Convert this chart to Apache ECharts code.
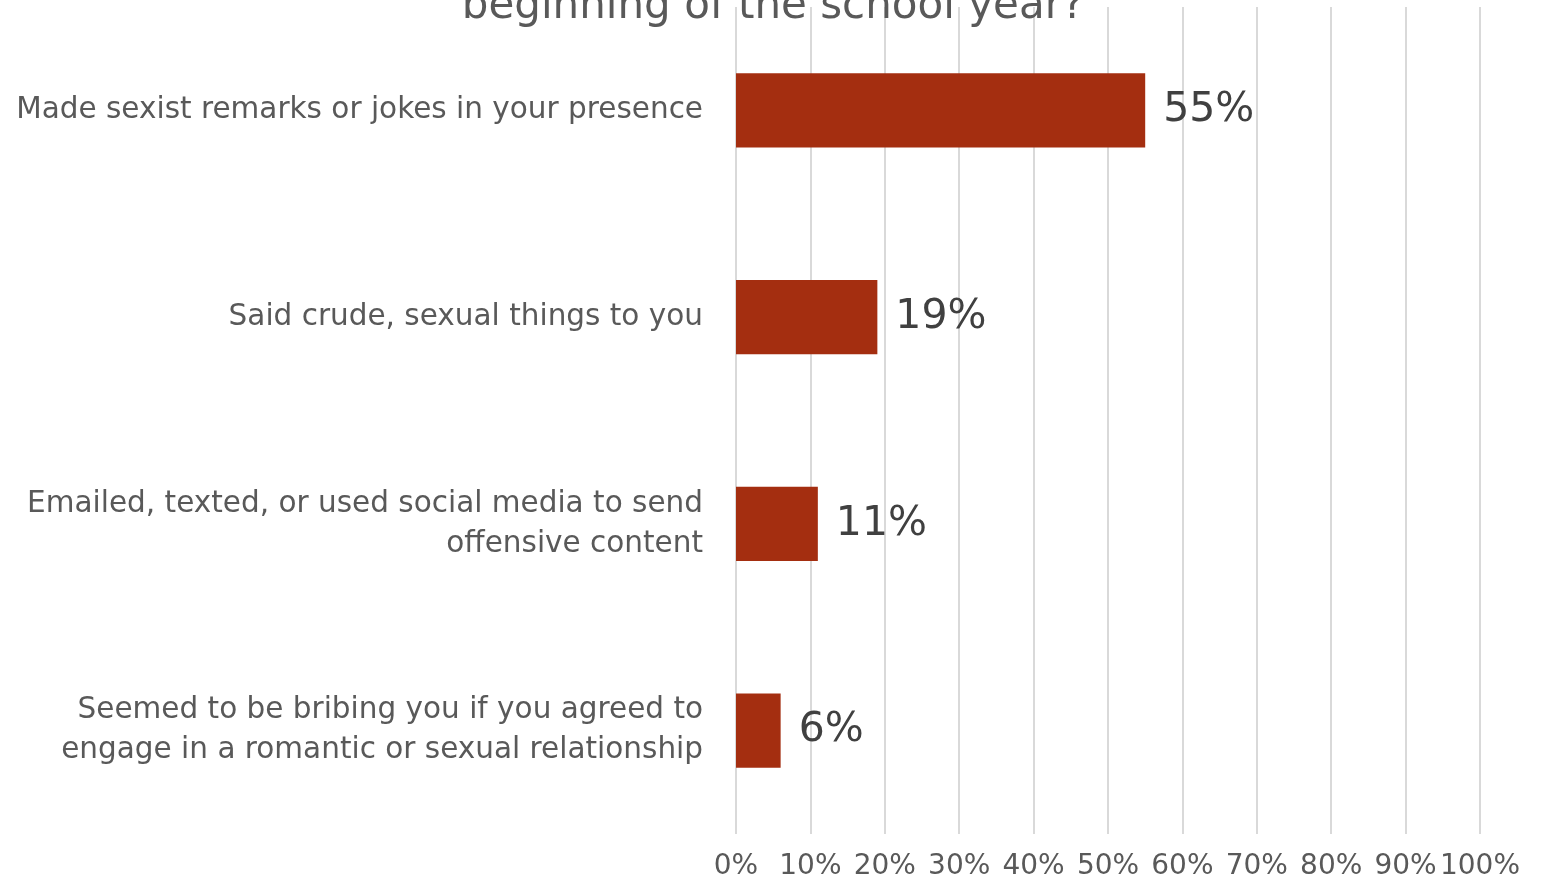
<!DOCTYPE html>
<html>
<head>
<meta charset="utf-8">
<script src="https://cdn.jsdelivr.net/npm/echarts@6/dist/echarts.min.js"></script>
<style>
  html, body { margin: 0; padding: 0; background: #ffffff; }
  #chart { width: 1545px; height: 882px; }
</style>
</head>
<body>
<div id="chart"></div>
<script>
// Survey items (top to bottom) and share of respondents, in percent
const categories = [
  'Made sexist remarks or jokes in your presence',
  'Said crude, sexual things to you',
  'Emailed, texted, or used social media to send\noffensive content',
  'Seemed to be bribing you if you agreed to\nengage in a romantic or sexual relationship'
];
const values = [55, 19, 11, 6];
const axisMax = 100;
const axisStep = 10;
const titleText = 'beginning of the school year?';

const FONT = 'DejaVu Sans';
const chart = echarts.init(document.getElementById('chart'));

chart.setOption({
  backgroundColor: '#ffffff',
  animation: false,
  title: {
    text: titleText,
    left: 768,
    textAlign: 'center',
    top: -23,
    textStyle: { fontFamily: FONT, fontSize: 42, fontWeight: 'normal', color: '#595959', lineHeight: 50 }
  },
  grid: { left: 736, right: 65, top: 7, bottom: 48, containLabel: false },
  xAxis: {
    type: 'value',
    min: 0,
    max: axisMax,
    interval: axisStep,
    axisLine: { show: false },
    axisTick: { show: false },
    splitLine: { show: true, lineStyle: { color: '#d9d9d9', width: 2 } },
    axisLabel: {
      formatter: v => v + '%',
      margin: 19,
      fontFamily: FONT,
      fontSize: 28,
      color: '#595959'
    }
  },
  yAxis: {
    type: 'category',
    inverse: true,
    data: categories,
    axisLine: { show: false },
    axisTick: { show: false },
    axisLabel: {
      margin: 33,
      fontFamily: FONT,
      fontSize: 29.5,
      lineHeight: 40,
      color: '#595959',
      align: 'right'
    }
  },
  series: [{
    type: 'bar',
    data: values,
    barCategoryGap: '64%',
    itemStyle: { color: '#a42e10' },
    label: {
      show: true,
      position: 'right',
      distance: 18,
      formatter: p => p.value + '%',
      fontFamily: FONT,
      fontSize: 41,
      color: '#404040'
    }
  }]
});
</script>
</body>
</html>
